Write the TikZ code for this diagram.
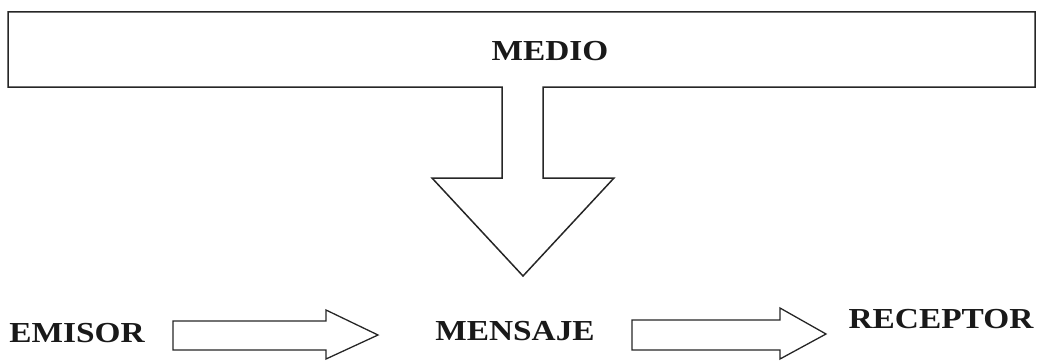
\documentclass[tikz,border=0pt]{standalone}
\usepackage{fontspec}
\usepackage{graphicx}
\setmainfont{Liberation Serif}
\begin{document}
\begin{tikzpicture}[x=1pt,y=-1pt,
  lbl/.style={anchor=base,inner sep=0pt,font=\fontsize{29}{32}\selectfont\bfseries,text=black!90},
  outline/.style={draw=black!85,line width=1.5pt,line join=miter},
  blockarrow/.style={draw=black!85,line width=1.3pt,line join=miter}]
\useasboundingbox (0,0) rectangle (1041,361);
% MEDIO box with downward arrow
\draw[outline] (8,12) -- (1035,12) -- (1035,87) -- (543,87) -- (543,178) -- (614,178)
  -- (523,276) -- (432,178) -- (502,178) -- (502,87) -- (8,87) -- cycle;
\node[lbl] (medio) at (550,60) {\scalebox{1.15}[1]{MEDIO}};
% bottom row
\node[lbl] (emisor) at (77,342) {\scalebox{1.15}[1]{EMISOR}};
\node[lbl] (mensaje) at (515,340) {\scalebox{1.15}[1]{MENSAJE}};
\node[lbl] (receptor) at (941,328) {\scalebox{1.15}[1]{RECEPTOR}};
% block arrows
\draw[blockarrow] (173,321) -- (326,321) -- (326,310) -- (378,335) -- (326,359) -- (326,350) -- (173,350) -- cycle;
\draw[blockarrow] (632,320) -- (780,320) -- (780,308) -- (826,334) -- (780,359) -- (780,350) -- (632,350) -- cycle;
\end{tikzpicture}
\end{document}
